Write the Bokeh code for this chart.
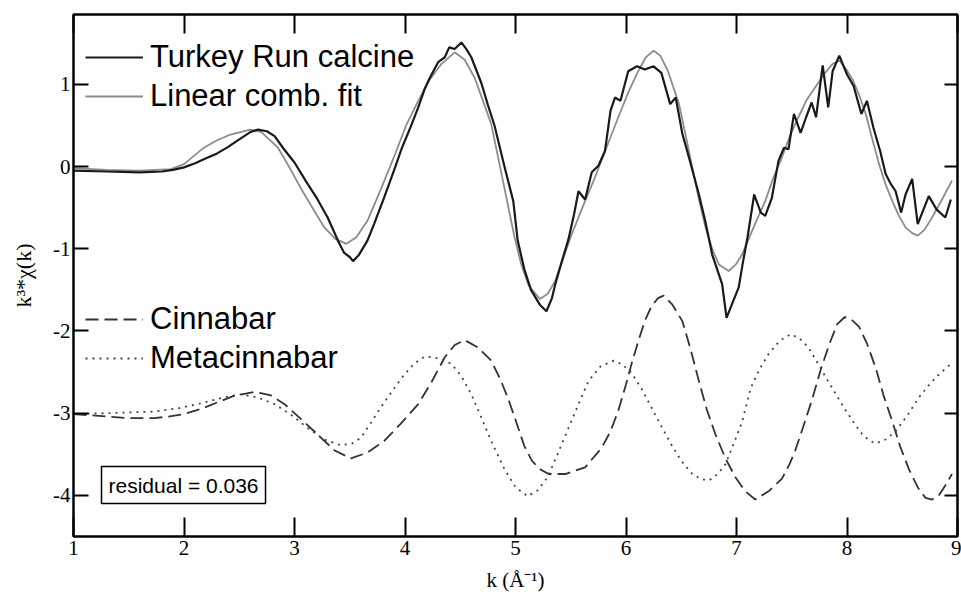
from bokeh.plotting import figure
from bokeh.models import (Range1d, LinearAxis, FixedTicker, Legend, LegendItem, Label)
from bokeh.embed import file_html
from bokeh.resources import INLINE

# ---------------- data ----------------
data_k = [1.0, 1.3, 1.6, 1.8, 1.9, 2.0, 2.1, 2.2, 2.3, 2.4, 2.5, 2.6, 2.67, 2.75, 2.82, 2.9,
          3.0, 3.1, 3.2, 3.3, 3.4, 3.45, 3.5, 3.53, 3.58, 3.66, 3.72, 3.81, 3.9, 3.97,
          4.05, 4.12, 4.18, 4.21, 4.26, 4.3, 4.36, 4.40, 4.45, 4.51, 4.56, 4.60, 4.69, 4.75,
          4.81, 4.90, 4.98, 5.02, 5.08, 5.14, 5.22, 5.28, 5.33, 5.36, 5.42, 5.48, 5.53, 5.57,
          5.63, 5.69, 5.75, 5.81, 5.86, 5.90, 5.95, 6.02, 6.10, 6.17, 6.25, 6.32, 6.40, 6.45,
          6.51, 6.57, 6.66, 6.72, 6.78, 6.87, 6.91, 6.96, 7.02, 7.06, 7.10, 7.16, 7.22, 7.26,
          7.32, 7.38, 7.43, 7.47, 7.52, 7.58, 7.63, 7.68, 7.72, 7.78, 7.83, 7.87, 7.93, 8.00,
          8.06, 8.13, 8.18, 8.24, 8.30, 8.35, 8.40, 8.44, 8.49, 8.53, 8.59, 8.64, 8.69, 8.74,
          8.81, 8.89, 8.94]
data_y = [-0.05, -0.06, -0.07, -0.06, -0.04, -0.01, 0.04, 0.10, 0.16, 0.24, 0.33, 0.42, 0.45, 0.43, 0.37, 0.22,
          0.05, -0.17, -0.38, -0.62, -0.92, -1.05, -1.10, -1.15, -1.08, -0.90, -0.70, -0.38, -0.05, 0.22,
          0.48, 0.72, 0.95, 1.04, 1.17, 1.27, 1.33, 1.45, 1.43, 1.51, 1.42, 1.33, 1.02, 0.75,
          0.50, 0.0, -0.42, -0.90, -1.25, -1.50, -1.68, -1.76, -1.60, -1.43, -1.15, -0.88, -0.58, -0.30,
          -0.40, -0.07, 0.01, 0.19, 0.68, 0.84, 0.80, 1.16, 1.22, 1.18, 1.22, 1.14, 0.76, 0.84,
          0.40, 0.11, -0.34, -0.68, -1.07, -1.43, -1.84, -1.67, -1.47, -1.15, -0.86, -0.34, -0.56, -0.60,
          -0.38, 0.07, 0.23, 0.21, 0.64, 0.41, 0.60, 0.78, 0.60, 1.23, 0.72, 1.16, 1.35, 1.12,
          0.98, 0.64, 0.80, 0.47, 0.19, -0.09, -0.22, -0.30, -0.56, -0.34, -0.15, -0.70, -0.53, -0.36,
          -0.52, -0.62, -0.40]

fit_k = [1.0, 1.3, 1.6, 1.88, 2.0, 2.18, 2.3, 2.42, 2.6, 2.7, 2.85, 2.95, 3.06, 3.17, 3.27, 3.37,
         3.47, 3.56, 3.66, 3.78, 3.91, 4.01, 4.12, 4.22, 4.33, 4.45, 4.54, 4.63, 4.70, 4.78,
         4.86, 4.93, 4.99, 5.05, 5.12, 5.22, 5.29, 5.36, 5.43, 5.51, 5.62, 5.72, 5.82, 5.93,
         6.02, 6.11, 6.18, 6.25, 6.31, 6.38, 6.48, 6.54, 6.60, 6.66, 6.72, 6.78, 6.84, 6.93,
         7.0, 7.05, 7.11, 7.18, 7.26, 7.33, 7.41, 7.48, 7.56, 7.63, 7.71, 7.79, 7.87, 7.93,
         7.99, 8.05, 8.11, 8.17, 8.23, 8.29, 8.35, 8.41, 8.47, 8.53, 8.59, 8.64, 8.70, 8.77,
         8.86, 8.95]
fit_y = [-0.02, -0.04, -0.05, -0.03, 0.03, 0.23, 0.32, 0.39, 0.45, 0.42, 0.23, 0.0, -0.27, -0.52, -0.74, -0.88,
         -0.94, -0.86, -0.66, -0.28, 0.15, 0.50, 0.80, 1.05, 1.25, 1.39, 1.30, 1.08, 0.82, 0.52,
         0.0, -0.46, -0.85, -1.18, -1.45, -1.61, -1.55, -1.39, -1.12, -0.82, -0.45, -0.13, 0.22, 0.60,
         0.90, 1.16, 1.33, 1.41, 1.35, 1.16, 0.76, 0.38, -0.01, -0.40, -0.74, -1.0, -1.19, -1.27,
         -1.18, -1.07, -0.88, -0.66, -0.42, -0.15, 0.11, 0.36, 0.60, 0.80, 0.96, 1.12, 1.25, 1.29,
         1.19, 1.06, 0.87, 0.64, 0.33, 0.03, -0.22, -0.42, -0.60, -0.74, -0.81, -0.84, -0.77, -0.62,
         -0.40, -0.17]

cinnabar_k = [1.0, 1.3, 1.5, 1.73, 1.87, 2.0, 2.15, 2.30, 2.45, 2.64, 2.78, 2.91, 3.05, 3.21, 3.36,
              3.51, 3.66, 3.81, 3.96, 4.12, 4.24, 4.36, 4.45, 4.54, 4.66, 4.78, 4.86, 4.93, 5.0,
              5.08, 5.15, 5.22, 5.30, 5.45, 5.63, 5.78, 5.86, 5.93, 6.0, 6.05, 6.11, 6.17, 6.23,
              6.29, 6.34, 6.42, 6.51, 6.58, 6.66, 6.73, 6.81, 6.90, 6.99, 7.08, 7.17, 7.29, 7.41,
              7.48, 7.53, 7.60, 7.68, 7.76, 7.84, 7.91, 7.98, 8.04, 8.11, 8.18, 8.26, 8.33, 8.41,
              8.48, 8.56, 8.64, 8.71, 8.77, 8.83, 8.89, 8.95]
cinnabar_y = [-3.01, -3.04, -3.06, -3.06, -3.04, -3.01, -2.95, -2.87, -2.79, -2.74, -2.78, -2.89, -3.06, -3.26, -3.45,
              -3.55, -3.48, -3.34, -3.13, -2.89, -2.62, -2.32, -2.17, -2.11, -2.20, -2.36, -2.58, -2.81, -3.08,
              -3.40, -3.58, -3.68, -3.74, -3.74, -3.66, -3.42, -3.22, -2.97, -2.65, -2.40, -2.13, -1.88, -1.70,
              -1.60, -1.57, -1.68, -1.88, -2.20, -2.61, -2.95, -3.26, -3.55, -3.78, -3.95, -4.05, -3.95, -3.80,
              -3.62, -3.46, -3.18, -2.85, -2.48, -2.16, -1.92, -1.83, -1.86, -1.95, -2.15, -2.45, -2.78, -3.10,
              -3.40, -3.68, -3.90, -4.03, -4.05, -4.00, -3.88, -3.74]

meta_k = [1.0, 1.3, 1.5, 1.73, 1.95, 2.15, 2.35, 2.51, 2.67, 2.82, 2.97, 3.12, 3.27, 3.42, 3.52,
          3.60, 3.69, 3.78, 3.88, 3.97, 4.08, 4.18, 4.30, 4.42, 4.51, 4.60, 4.69, 4.78, 4.90,
          5.0, 5.11, 5.20, 5.29, 5.38, 5.48, 5.57, 5.66, 5.77, 5.89, 5.97, 6.05, 6.14, 6.23,
          6.32, 6.41, 6.50, 6.60, 6.68, 6.75, 6.83, 6.90, 6.96, 7.05, 7.13, 7.21, 7.29, 7.39,
          7.49, 7.57, 7.65, 7.73, 7.81, 7.90, 7.99, 8.07, 8.14, 8.20, 8.26, 8.35, 8.44, 8.55,
          8.65, 8.74, 8.83, 8.94]
meta_y = [-3.01, -3.00, -2.99, -2.98, -2.94, -2.88, -2.81, -2.77, -2.81, -2.89, -3.02, -3.18, -3.32, -3.39, -3.37,
          -3.30, -3.12, -2.93, -2.74, -2.57, -2.40, -2.31, -2.33, -2.40, -2.55, -2.77, -3.05, -3.34, -3.68,
          -3.90, -4.01, -3.94, -3.78, -3.50, -3.18, -2.89, -2.61, -2.43, -2.36, -2.41, -2.51, -2.70, -2.93,
          -3.16, -3.38, -3.58, -3.74, -3.80, -3.82, -3.74, -3.62, -3.42, -3.11, -2.69, -2.46, -2.28, -2.12,
          -2.04, -2.09, -2.20, -2.38, -2.57, -2.77, -2.97, -3.13, -3.26, -3.33, -3.37, -3.32, -3.22, -3.02,
          -2.81, -2.66, -2.53, -2.40]

x_ticks = [1, 2, 3, 4, 5, 6, 7, 8, 9]
x_tick_labels = ["1", "2", "3", "4", "5", "6", "7", "8", "9"]
y_ticks = [1, 0, -1, -2, -3, -4]
y_tick_labels = ["1", "0", "-1", "-2", "-3", "-4"]

series_names = ["Turkey Run calcine", "Linear comb. fit", "Cinnabar", "Metacinnabar"]
residual_text = "residual = 0.036"
x_title = "k (\u00c5\u207b\u00b9)"
y_title = "k\u00b3*\u03c7(k)"

# ---------------- figure ----------------
SERIF = "Liberation Serif"
SANS = "Liberation Sans"

p = figure(width=961, height=596, output_backend="svg", toolbar_location=None,
           x_range=Range1d(1, 9), y_range=Range1d(-4.5, 1.85),
           x_axis_location=None, y_axis_location=None)
p.min_border_left = 73
p.min_border_right = 4
p.min_border_top = 14
p.min_border_bottom = 60
p.xgrid.visible = False
p.ygrid.visible = False
p.outline_line_color = "black"
p.outline_line_width = 2
p.background_fill_color = "white"
p.border_fill_color = "white"


def style_axis(ax, ticks, labels, tick_len, show_labels):
    ax.ticker = FixedTicker(ticks=ticks)
    ax.major_tick_in = tick_len
    ax.major_tick_out = 0
    ax.minor_tick_in = 0
    ax.minor_tick_out = 0
    ax.major_tick_line_color = "black"
    ax.major_tick_line_width = 2
    ax.axis_line_color = "black"
    ax.axis_line_width = 2
    if show_labels:
        ax.major_label_overrides = {t: l for t, l in zip(ticks, labels)}
        ax.major_label_text_font = SERIF
        ax.major_label_text_font_size = "21px"
        ax.major_label_text_color = "black"
    else:
        ax.major_label_overrides = {t: "" for t in ticks}
        ax.major_label_text_font_size = "0px"
        ax.major_label_standoff = 0


xb = LinearAxis()
style_axis(xb, x_ticks, x_tick_labels, 19, True)
xb.major_label_standoff = 4
xb.axis_label = x_title
xb.axis_label_text_font = SERIF
xb.axis_label_text_font_size = "21px"
xb.axis_label_text_font_style = "normal"
xb.axis_label_text_color = "black"
xb.axis_label_standoff = 10
p.add_layout(xb, "below")

yl = LinearAxis()
style_axis(yl, y_ticks, y_tick_labels, 15, True)
yl.major_label_standoff = 3
yl.axis_label = y_title
yl.axis_label_text_font = SERIF
yl.axis_label_text_font_size = "22px"
yl.axis_label_text_font_style = "normal"
yl.axis_label_text_color = "black"
yl.axis_label_standoff = 14
p.add_layout(yl, "left")

xt = LinearAxis()
style_axis(xt, x_ticks, x_tick_labels, 19, False)
p.add_layout(xt, "above")

yr = LinearAxis()
style_axis(yr, y_ticks, y_tick_labels, 13, False)
p.add_layout(yr, "right")

# ---------------- lines ----------------
r_fit = p.line(fit_k, fit_y, line_color="#8c8c8c", line_width=1.8)
r_data = p.line(data_k, data_y, line_color="#1a1a1a", line_width=2.2)
r_cin = p.line(cinnabar_k, cinnabar_y, line_color="#333333", line_width=1.8, line_dash="13 6")
r_meta = p.line(meta_k, meta_y, line_color="#444444", line_width=1.8, line_dash="2 5")


def make_legend(items, loc):
    return Legend(items=items, location=loc, border_line_color=None,
                  background_fill_alpha=0, label_text_font=SANS,
                  label_text_font_size="31px", label_text_color="black",
                  glyph_width=58, glyph_height=36, label_height=36,
                  spacing=3, padding=0, margin=0, label_standoff=7)


leg1 = make_legend([LegendItem(label=series_names[0], renderers=[r_data]),
                    LegendItem(label=series_names[1], renderers=[r_fit])], (12, 422))
leg2 = make_legend([LegendItem(label=series_names[2], renderers=[r_cin]),
                    LegendItem(label=series_names[3], renderers=[r_meta])], (12, 160))
p.add_layout(leg1, "center")
p.add_layout(leg2, "center")

res = Label(x=28, y=33, x_units="screen", y_units="screen", text=residual_text,
            text_font=SANS, text_font_size="21px", text_color="black",
            text_align="left", text_baseline="bottom",
            border_line_color="black", border_line_width=1.5,
            background_fill_color="white", padding=7)
p.add_layout(res)

open("out.html", "w").write(file_html(p, INLINE))
